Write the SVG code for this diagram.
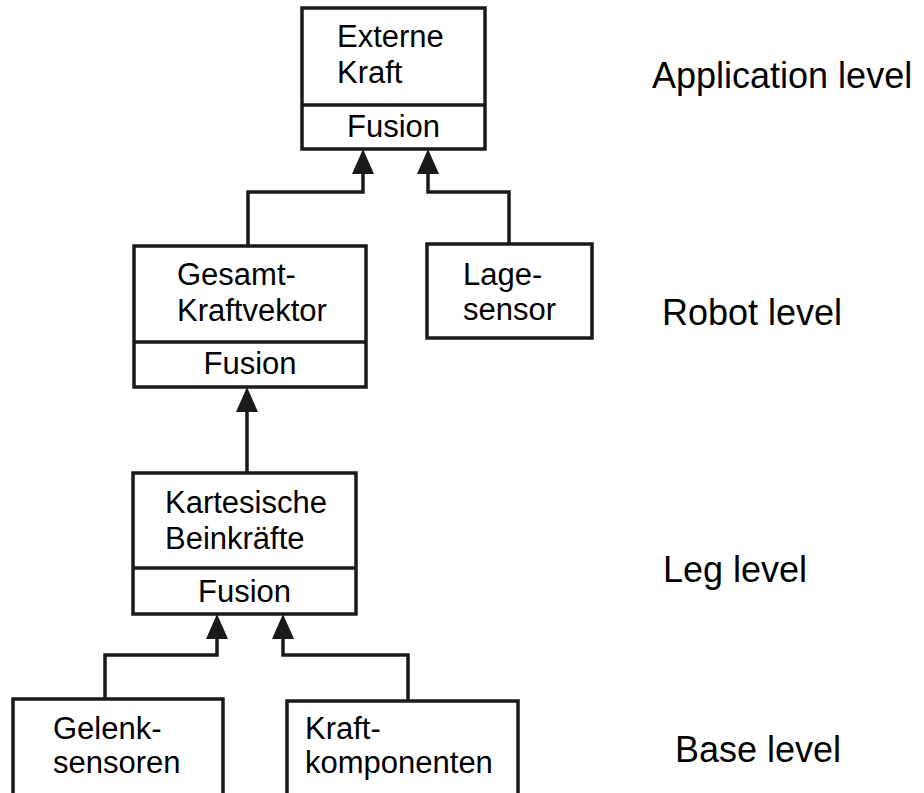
<svg xmlns="http://www.w3.org/2000/svg" width="924" height="793" viewBox="0 0 924 793">
<style>
.box{fill:#fff;stroke:#1a1a1a;stroke-width:3.5}
.div{stroke:#1a1a1a;stroke-width:3.5}
.t{font-family:"Liberation Sans",Arial,sans-serif;font-size:31px;fill:#000}
.c{text-anchor:middle}
.lvl{font-family:"Liberation Sans",Arial,sans-serif;font-size:36px;fill:#000}
.con{fill:none;stroke:#1a1a1a;stroke-width:3.5;marker-end:url(#ah)}
</style>
<defs>
<marker id="ah" markerUnits="userSpaceOnUse" viewBox="0 0 25 22" refX="20" refY="11" markerWidth="25" markerHeight="22" orient="auto">
<path d="M0,0 L25,11 L0,22 z" fill="#1a1a1a"/>
</marker>
</defs>
<rect width="924" height="793" fill="#fff"/>
<g id="connectors">
<path class="con" d="M248,246 V192 H363 V154"/>
<path class="con" d="M509,244 V192 H428 V154"/>
<path class="con" d="M247,473 V392"/>
<path class="con" d="M105,699 V655 H217 V619"/>
<path class="con" d="M408,701 V655 H283 V619"/>
</g>
<g id="externe-kraft">
<rect class="box" x="302" y="8" width="183" height="141"/>
<line class="div" x1="302" y1="105" x2="485" y2="105"/>
<text class="t" x="337" y="47">Externe</text>
<text class="t" x="337" y="83">Kraft</text>
<text class="t c" x="393.5" y="137">Fusion</text>
</g>
<g id="gesamt-kraftvektor">
<rect class="box" x="134" y="246" width="232" height="141"/>
<line class="div" x1="134" y1="342" x2="366" y2="342"/>
<text class="t" x="177" y="285">Gesamt-</text>
<text class="t" x="177" y="321">Kraftvektor</text>
<text class="t c" x="250" y="374">Fusion</text>
</g>
<g id="lagesensor">
<rect class="box" x="427" y="244" width="165" height="94"/>
<text class="t" x="463" y="285">Lage-</text>
<text class="t" x="463" y="320">sensor</text>
</g>
<g id="kartesische-beinkraefte">
<rect class="box" x="133" y="473" width="223" height="141"/>
<line class="div" x1="133" y1="568" x2="356" y2="568"/>
<text class="t" x="165" y="513">Kartesische</text>
<text class="t" x="165" y="549">Beinkräfte</text>
<text class="t c" x="244.5" y="602">Fusion</text>
</g>
<g id="gelenksensoren">
<rect class="box" x="13" y="699" width="210" height="110"/>
<text class="t" x="53" y="739">Gelenk-</text>
<text class="t" x="53" y="773">sensoren</text>
</g>
<g id="kraftkomponenten">
<rect class="box" x="287" y="701" width="231" height="110"/>
<text class="t" x="305" y="739">Kraft-</text>
<text class="t" x="305" y="773">komponenten</text>
</g>
<g id="levels">
<text class="lvl" x="652" y="88">Application level</text>
<text class="lvl" x="662" y="325">Robot level</text>
<text class="lvl" x="663" y="582">Leg level</text>
<text class="lvl" x="675" y="762">Base level</text>
</g>
</svg>
